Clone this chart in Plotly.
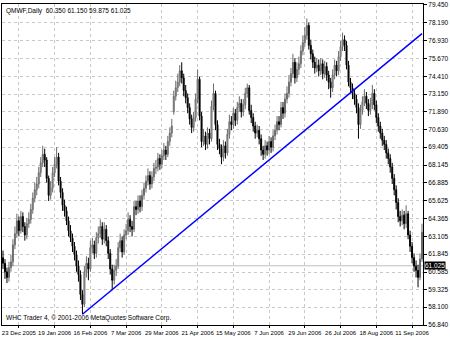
import plotly.graph_objects as go

title_text = "QMWF,Daily  60.350 61.150 59.875 61.025"
copyright_text = "WHC Trader 4, \u00a9 2001-2006 MetaQuotes Software Corp."
bid_price = 61.025

date_labels = ["23 Dec 2005", "19 Jan 2006", "16 Feb 2006", "7 Mar 2006", "29 Mar 2006",
               "21 Apr 2006", "15 May 2006", "7 Jun 2006", "29 Jun 2006", "26 Jul 2006",
               "18 Aug 2006", "11 Sep 2006"]
date_label_bars = [8, 26, 44, 62, 80, 98, 116, 134, 152, 170, 188, 206]

price_ticks = [79.450, 78.190, 76.930, 75.670, 74.410, 73.150, 71.890, 70.630, 69.405,
               68.145, 66.885, 65.625, 64.365, 63.105, 61.845, 60.585, 59.325, 58.100, 56.840]

opens = [61.6, 61.2, 60.6, 60.2, 60.9, 61.3, 62.5, 63.3, 64.2, 63.5, 64.5, 63.8, 63.2, 64.0, 64.3, 65.0,
         65.8, 66.4, 66.8, 67.6, 68.3, 68.9, 68.5, 67.2, 66.0, 66.5, 67.6, 68.2, 68.7, 67.0, 66.2, 65.3,
         64.9, 64.2, 63.5, 63.0, 62.4, 61.8, 61.0, 60.4, 59.0, 58.3, 60.6, 61.2, 60.8, 62.3, 62.5, 61.9,
         63.0, 63.3, 63.8, 62.9, 63.6, 62.8, 61.9, 60.8, 60.0, 60.7, 61.0, 62.3, 62.8, 62.0, 63.2, 63.5,
         64.3, 63.8, 63.6, 65.2, 65.0, 65.6, 65.2, 66.0, 66.5, 67.0, 67.4, 66.8, 67.3, 67.9, 68.0, 68.6,
         68.2, 68.8, 69.2, 68.9, 69.8, 70.4, 71.9, 73.0, 73.6, 74.0, 74.8, 74.3, 73.4, 72.9, 72.2, 71.4,
         70.8, 71.5, 72.8, 74.2, 71.6, 69.8, 70.2, 69.6, 70.4, 70.0, 72.3, 73.2, 71.0, 69.6, 69.3, 68.7,
         69.5, 69.0, 70.3, 71.2, 71.0, 71.8, 71.3, 72.2, 72.5, 71.9, 72.4, 73.2, 73.6, 72.0, 71.5, 70.9,
         70.4, 70.6, 70.0, 69.2, 68.9, 69.5, 69.2, 69.8, 69.4, 70.2, 70.6, 71.2, 71.0, 72.2, 71.8, 72.8,
         73.2, 74.0, 74.6, 75.4, 74.3, 74.9, 75.3, 76.2, 76.8, 77.3, 78.0, 76.6, 76.0, 75.4, 75.0, 75.2,
         74.8, 75.3, 74.6, 75.1, 74.5, 74.0, 73.6, 74.5, 75.2, 74.8, 75.8, 76.5, 77.0, 76.6, 75.2, 74.0,
         73.6, 73.2, 72.8, 72.2, 71.0, 72.0, 72.6, 73.0, 72.5, 72.0, 72.4, 73.2, 72.4, 71.5, 70.9, 70.4,
         69.9, 69.6, 69.0, 68.6, 68.0, 67.2, 66.4, 65.5, 64.5, 64.2, 64.6, 64.0, 64.7, 63.2, 62.4, 61.6,
         61.0, 60.7, 60.2, 61.5]
highs = [62.1, 61.5, 60.9, 61.3, 61.8, 62.9, 63.8, 64.7, 64.5, 64.9, 64.8, 64.1, 64.4, 64.8, 65.4, 66.2,
         66.9, 67.3, 68.0, 68.7, 69.5, 69.3, 68.7, 67.4, 67.0, 68.0, 68.7, 69.4, 69.0, 67.3, 66.5, 65.7,
         65.2, 64.5, 63.9, 63.3, 62.7, 62.1, 61.4, 60.7, 59.3, 61.0, 61.7, 61.6, 62.8, 63.0, 62.8, 63.4,
         63.8, 64.3, 64.1, 64.1, 63.9, 63.1, 62.2, 61.1, 61.1, 61.5, 62.7, 63.3, 63.1, 63.6, 64.0, 64.8,
         64.6, 64.2, 65.6, 65.6, 66.0, 66.0, 66.4, 66.9, 67.4, 67.9, 67.7, 67.7, 68.3, 68.5, 69.0, 68.9,
         69.2, 69.7, 69.5, 70.2, 70.8, 71.4, 73.4, 74.1, 74.6, 75.2, 75.4, 74.6, 73.8, 73.2, 72.5, 71.7,
         71.9, 73.2, 74.9, 74.4, 71.9, 70.7, 70.5, 70.8, 70.7, 72.7, 73.9, 73.4, 71.3, 70.0, 69.6, 69.9,
         69.8, 70.7, 71.7, 71.6, 72.2, 72.1, 72.6, 73.0, 72.8, 72.8, 73.6, 73.9, 73.8, 72.4, 71.8, 71.2,
         71.0, 70.9, 70.3, 69.5, 69.9, 69.8, 70.2, 70.1, 70.6, 71.0, 71.6, 71.6, 72.6, 72.6, 73.2, 73.7,
         74.5, 75.0, 76.0, 75.7, 75.4, 75.8, 76.6, 77.3, 77.9, 78.5, 78.2, 77.0, 76.3, 75.8, 75.7, 75.6,
         75.7, 75.6, 75.5, 75.4, 74.8, 74.3, 74.9, 75.6, 75.5, 76.2, 76.9, 77.5, 77.3, 76.9, 75.5, 74.3,
         73.9, 73.5, 73.1, 72.5, 72.4, 73.0, 73.5, 73.3, 72.8, 72.9, 73.8, 73.5, 72.7, 71.8, 71.2, 70.7,
         70.2, 69.9, 69.3, 68.9, 68.3, 67.5, 66.7, 65.8, 64.9, 65.0, 64.9, 65.3, 64.9, 63.5, 62.7, 61.9,
         61.4, 61.1, 61.9, 64.0]
lows = [60.8, 60.1, 59.8, 59.9, 60.6, 61.0, 62.2, 63.0, 63.1, 63.3, 63.4, 62.8, 62.9, 63.7, 64.0, 64.7,
        65.5, 66.0, 66.5, 67.3, 68.0, 68.0, 66.9, 65.6, 65.7, 66.2, 67.3, 67.9, 66.7, 65.8, 64.9, 64.5,
        63.9, 63.1, 62.7, 62.0, 61.4, 60.6, 59.9, 58.6, 57.6, 58.1, 60.2, 60.0, 60.6, 61.9, 61.5, 61.6,
        62.6, 63.0, 62.5, 62.6, 62.4, 61.5, 60.4, 59.3, 59.7, 60.3, 60.8, 62.0, 61.6, 61.8, 62.9, 63.2,
        63.4, 63.1, 63.4, 64.6, 64.7, 64.8, 64.9, 65.7, 66.2, 66.7, 66.4, 66.5, 67.0, 67.5, 67.7, 67.8,
        67.9, 68.5, 68.5, 68.7, 69.5, 70.1, 71.7, 72.7, 73.3, 73.7, 73.9, 73.0, 72.5, 71.8, 71.0, 70.4,
        70.5, 71.2, 72.5, 71.3, 69.4, 69.5, 69.2, 69.3, 69.6, 69.8, 72.0, 70.6, 69.2, 68.9, 68.2, 68.4,
        68.6, 68.8, 70.0, 70.6, 70.7, 70.9, 71.0, 71.9, 71.5, 71.6, 72.1, 72.9, 71.7, 71.1, 70.5, 70.0,
        70.1, 69.6, 68.8, 68.5, 68.6, 68.8, 68.9, 69.0, 69.1, 69.9, 70.3, 70.6, 70.8, 71.4, 71.5, 72.5,
        72.9, 73.7, 74.3, 73.9, 74.0, 74.5, 75.0, 75.9, 76.5, 77.0, 76.3, 75.6, 75.0, 74.6, 74.7, 74.4,
        74.5, 74.2, 74.3, 74.1, 73.5, 72.9, 73.3, 74.2, 74.4, 74.5, 75.5, 76.2, 76.2, 74.9, 73.7, 73.2,
        72.8, 72.4, 71.8, 70.0, 70.7, 71.7, 72.3, 72.1, 71.6, 71.7, 72.1, 72.0, 71.1, 70.5, 70.0, 69.5,
        69.2, 68.6, 68.2, 67.6, 66.8, 66.0, 65.0, 64.1, 63.8, 63.9, 63.6, 63.7, 62.9, 62.0, 61.2, 60.6,
        60.2, 59.5, 60.0, 61.3]
closes = [61.2, 60.6, 60.2, 60.9, 61.3, 62.5, 63.3, 64.2, 63.5, 64.5, 63.8, 63.2, 64.0, 64.3, 65.0, 65.8,
          66.4, 66.8, 67.6, 68.3, 68.9, 68.5, 67.2, 66.0, 66.5, 67.6, 68.2, 68.7, 67.0, 66.2, 65.3, 64.9,
          64.2, 63.5, 63.0, 62.4, 61.8, 61.0, 60.4, 59.0, 58.3, 60.6, 61.2, 60.8, 62.3, 62.5, 61.9, 63.0,
          63.3, 63.8, 62.9, 63.6, 62.8, 61.9, 60.8, 60.0, 60.7, 61.0, 62.3, 62.8, 62.0, 63.2, 63.5, 64.3,
          63.8, 63.6, 65.2, 65.0, 65.6, 65.2, 66.0, 66.5, 67.0, 67.4, 66.8, 67.3, 67.9, 68.0, 68.6, 68.2,
          68.8, 69.2, 68.9, 69.8, 70.4, 70.9, 73.0, 73.6, 74.0, 74.8, 74.3, 73.4, 72.9, 72.2, 71.4, 70.8,
          71.5, 72.8, 74.2, 71.6, 69.8, 70.2, 69.6, 70.4, 70.0, 72.3, 73.2, 71.0, 69.6, 69.3, 68.7, 69.5,
          69.0, 70.3, 71.2, 71.0, 71.8, 71.3, 72.2, 72.5, 71.9, 72.4, 73.2, 73.6, 72.0, 71.5, 70.9, 70.4,
          70.6, 70.0, 69.2, 68.9, 69.5, 69.2, 69.8, 69.4, 70.2, 70.6, 71.2, 71.0, 72.2, 71.8, 72.8, 73.2,
          74.0, 74.6, 75.4, 74.3, 74.9, 75.3, 76.2, 76.8, 77.3, 78.0, 76.6, 76.0, 75.4, 75.0, 75.2, 74.8,
          75.3, 74.6, 75.1, 74.5, 74.0, 73.6, 74.5, 75.2, 74.8, 75.8, 76.5, 77.0, 76.6, 75.2, 74.0, 73.6,
          73.2, 72.8, 72.2, 71.0, 72.0, 72.6, 73.0, 72.5, 72.0, 72.4, 73.2, 72.4, 71.5, 70.9, 70.4, 69.9,
          69.6, 69.0, 68.6, 68.0, 67.2, 66.4, 65.5, 64.5, 64.2, 64.6, 64.0, 64.7, 63.2, 62.4, 61.6, 61.0,
          60.7, 60.2, 61.5, 63.4]

trend_bars = [40, 211]
trend_prices = [57.60, 77.43]

bars = list(range(len(closes)))

fig = go.Figure()
fig.add_trace(go.Candlestick(
    x=bars, open=opens, high=highs, low=lows, close=closes,
    increasing=dict(line=dict(color="#6a6a6a", width=1), fillcolor="#c4c4c4"),
    decreasing=dict(line=dict(color="#000000", width=1), fillcolor="#000000"),
    whiskerwidth=0, hoverinfo="skip",
))
fig.add_trace(go.Scatter(x=trend_bars, y=trend_prices, mode="lines",
                         line=dict(color="#0000ff", width=1.5), hoverinfo="skip"))

fig.add_shape(type="line", xref="paper", x0=0, x1=1, yref="y", y0=bid_price, y1=bid_price,
              line=dict(color="#c0c0c0", width=1), layer="below")

fig.update_layout(
    width=450, height=337,
    margin=dict(l=2, r=25, t=1, b=11),
    paper_bgcolor="white", plot_bgcolor="white",
    showlegend=False,
    font=dict(family="Liberation Sans", size=7, color="black"),
    xaxis=dict(
        range=[-0.5, len(closes) - 0.5], type="linear",
        tickmode="array", tickvals=date_label_bars, ticktext=date_labels,
        tickangle=0, ticklabeloverflow="allow",
        showgrid=True, gridcolor="#c8c8c8", griddash="dot", gridwidth=1,
        showline=True, linecolor="#000000", linewidth=1, mirror=True,
        ticks="outside", ticklen=2, tickcolor="#000000",
        zeroline=False, rangeslider=dict(visible=False),
        tickfont=dict(size=6),
    ),
    yaxis=dict(
        range=[56.84, 79.52], side="right",
        tickmode="array", tickvals=price_ticks, ticktext=[f"{p:.3f}" for p in price_ticks],
        ticklabeloverflow="allow",
        showgrid=True, gridcolor="#c8c8c8", griddash="dot", gridwidth=1,
        showline=True, linecolor="#000000", linewidth=1, mirror=True,
        ticks="outside", ticklen=3, tickcolor="#000000",
        zeroline=False, tickfont=dict(size=6.5),
    ),
    annotations=[
        dict(text=title_text, xref="paper", yref="paper", x=0.005, y=1, xanchor="left",
             yanchor="top", showarrow=False, font=dict(size=6.5), yshift=-1),
        dict(text=copyright_text, xref="paper", yref="paper", x=0.005, y=0, xanchor="left",
             yanchor="bottom", showarrow=False, font=dict(size=6.5), yshift=1),
        dict(text=f"{bid_price:.3f}", xref="paper", yref="y", x=1, y=bid_price, xanchor="left",
             yanchor="middle", showarrow=False, font=dict(size=6.5, color="white"),
             bgcolor="black", borderpad=0, xshift=1),
    ],
)

fig.write_html("out.html")
